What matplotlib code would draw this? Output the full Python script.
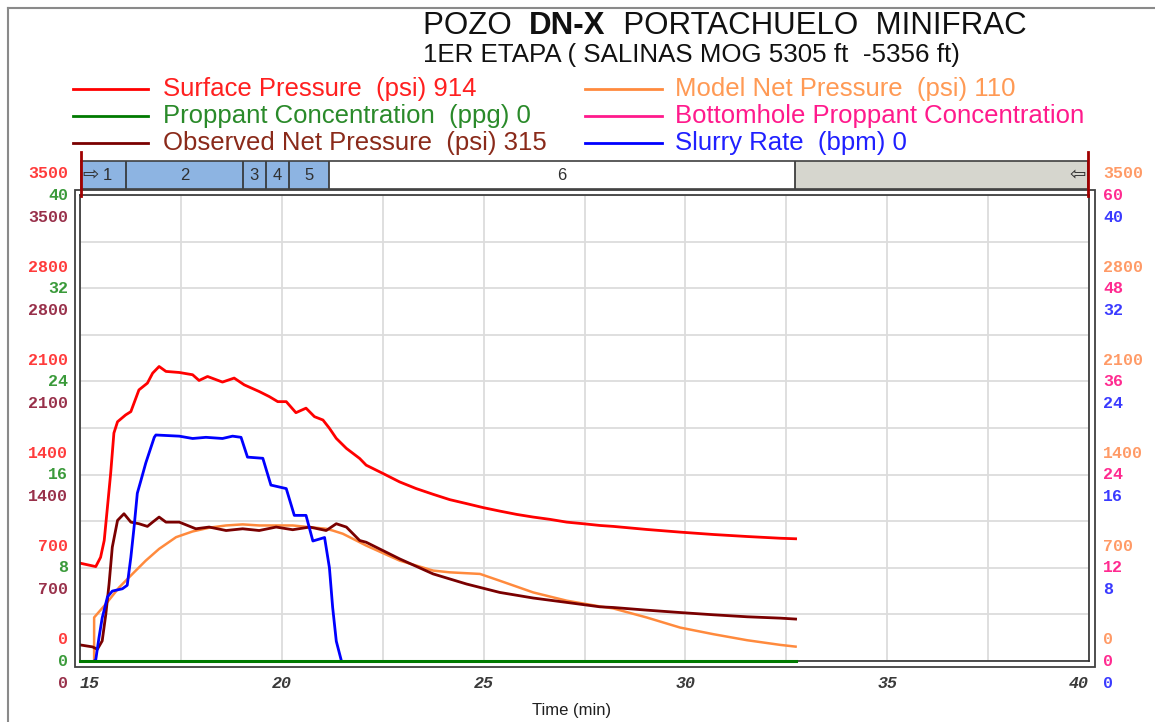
import numpy as np
import matplotlib
matplotlib.use('Agg')
import matplotlib.pyplot as plt
from matplotlib.transforms import offset_copy
from matplotlib.patches import Rectangle
from matplotlib.lines import Line2D

# Surface pressure (psi)
sp_t = [15.0, 15.39, 15.51, 15.60, 15.68, 15.76, 15.84, 15.93, 16.13, 16.26, 16.46, 16.67,
        16.80, 16.96, 17.13, 17.46, 17.79, 17.95, 18.16, 18.53, 18.82, 19.07, 19.44, 19.69,
        19.90, 20.11, 20.35, 20.60, 20.81, 21.02, 21.18, 21.35, 21.60, 21.93, 22.09, 22.51,
        22.92, 23.33, 23.75, 24.16, 24.58, 24.99, 25.40, 25.82, 26.23, 26.64, 27.06, 27.47,
        27.88, 28.21, 29.04, 29.87, 30.70, 31.53, 32.35, 32.73]
sp_v = [735, 709, 779, 905, 1156, 1410, 1712, 1797, 1848, 1873, 2036, 2087,
        2162, 2212, 2175, 2167, 2150, 2107, 2137, 2095, 2125, 2074, 2024, 1986,
        1948, 1948, 1865, 1899, 1835, 1810, 1748, 1672, 1597, 1521, 1471, 1408,
        1345, 1295, 1252, 1212, 1182, 1152, 1126, 1101, 1081, 1064, 1043, 1031,
        1018, 1011, 988, 968, 950, 935, 922, 918]

# Slurry rate (bpm)
sr_t = [15.35, 15.39, 15.47, 15.55, 15.68, 15.80, 16.05, 16.17, 16.26, 16.34, 16.42, 16.51,
        16.63, 16.84, 16.88, 17.46, 17.79, 18.12, 18.53, 18.78, 18.99, 19.15, 19.53, 19.73,
        20.11, 20.31, 20.60, 20.77, 21.06, 21.18, 21.26, 21.35, 21.47]
sr_v = [0.0, 0.1, 2.0, 3.7, 5.5, 6.0, 6.2, 6.5, 8.9, 11.5, 14.4, 15.5,
        17.0, 19.2, 19.4, 19.3, 19.1, 19.2, 19.1, 19.3, 19.2, 17.5, 17.4, 15.1,
        14.8, 12.5, 12.5, 10.3, 10.6, 8.0, 4.6, 1.7, 0.1]

# Model net pressure (psi)
mn_t = [15.35, 15.35, 15.64, 15.97, 16.30, 16.63, 16.96, 17.38, 17.79, 18.20, 18.62, 19.03,
        19.44, 20.27, 21.10, 21.26, 21.51, 21.93, 22.09, 22.92, 23.75, 24.16, 24.91, 25.40,
        26.23, 27.06, 27.88, 28.21, 29.04, 29.87, 30.70, 31.53, 32.35, 32.73]
mn_v = [0, 327, 428, 553, 654, 754, 842, 930, 973, 1001, 1018, 1026,
        1018, 1018, 993, 980, 956, 892, 867, 754, 679, 666, 654, 603,
        515, 453, 410, 395, 327, 251, 201, 156, 121, 108]

# Observed net pressure (psi)
on_t = [15.0, 15.31, 15.43, 15.55, 15.64, 15.72, 15.80, 15.93, 16.09, 16.26, 16.46, 16.67,
        16.80, 16.96, 17.13, 17.46, 17.87, 18.20, 18.62, 19.03, 19.44, 19.86, 20.27, 20.69,
        21.10, 21.35, 21.60, 21.93, 22.09, 22.92, 23.75, 24.58, 25.40, 26.23, 27.06, 27.88,
        28.21, 29.04, 29.87, 30.70, 31.53, 32.35, 32.73]
on_v = [121, 106, 88, 151, 352, 578, 855, 1056, 1106, 1043, 1031, 1011,
        1043, 1081, 1043, 1043, 993, 1006, 980, 993, 980, 1006, 986, 1006,
        980, 1031, 1006, 905, 892, 767, 654, 578, 515, 473, 440, 407,
        402, 382, 364, 347, 332, 322, 315]

# Proppant concentration (ppg)
pc_t = [15.0, 32.73]
pc_v = [0, 0]

# stages
stage_edges = [15.0, 16.12, 19.02, 19.59, 20.16, 21.16, 32.73, 40.0]
stage_labels = ['1', '2', '3', '4', '5', '6', '']

# axis tick labels
x_labels = [15, 20, 25, 30, 35, 40]
sp_ticks = ['0', '700', '1400', '2100', '2800', '3500']
pc_ticks = ['0', '8', '16', '24', '32', '40']
on_ticks = ['0', '700', '1400', '2100', '2800', '3500']
mn_ticks = ['0', '700', '1400', '2100', '2800', '3500']
bh_ticks = ['0', '12', '24', '36', '48', '60']
sr_ticks = ['0', '8', '16', '24', '32', '40']

W, H = 1155, 722
fig = plt.figure(figsize=(W / 100, H / 100), dpi=100)
plt.rcParams['font.family'] = ['Liberation Sans', 'DejaVu Sans']


def fx(px):
    return px / W


def fy(py):
    return 1 - py / H


# main plot
ax = fig.add_axes([fx(80), fy(661), fx(1089) - fx(80), fy(195) - fy(661)])
ax.set_xlim(15, 40)
ax.set_ylim(0, 3500)
ax.set_xticks(np.arange(15, 40.01, 2.5))
ax.set_yticks(np.linspace(0, 3500, 11))
ax.grid(color='#dcdcdc', linewidth=1.3)
ax.set_axisbelow(True)
ax.tick_params(length=0, labelbottom=False, labelleft=False)
for s in ax.spines.values():
    s.set_color('#303030')
    s.set_linewidth(1.2)

ax2 = ax.twinx()
ax2.set_ylim(0, 40)
ax2.set_yticks([])
ax2.tick_params(length=0)
for s in ax2.spines.values():
    s.set_visible(False)

ax.plot(sp_t, sp_v, color='#ff0000', lw=2.0)
ax.plot(mn_t, mn_v, color='#ff8a3d', lw=1.8)
ax.plot(on_t, on_v, color='#7a0000', lw=2.0)
ax2.plot(sr_t, sr_v, color='#0000ff', lw=2.0)
ax2.plot(pc_t, pc_v, color='#007a00', lw=2.2, clip_on=False)

# outer frame of the plot
fig.add_artist(Rectangle((fx(74.5), fy(666.5)), fx(1095) - fx(74.5), fy(190) - fy(666.5),
                         transform=fig.transFigure, fill=False, ec='#404040', lw=1.3))

# stacked y tick labels
fracs = np.linspace(0, 1, 6)
tick_font = dict(family='Liberation Mono', fontweight='bold', fontsize=12)
left_sets = [(sp_ticks, '#ff3b3b', 21), (pc_ticks, '#3a9a3a', 0), (on_ticks, '#98304a', -22)]
right_sets = [(mn_ticks, '#ff9a66', 21), (bh_ticks, '#ff2a90', 0), (sr_ticks, '#3a3aff', -22)]
for labels, col, dy in left_sets:
    tr = offset_copy(ax.transAxes, fig=fig, x=-12, y=dy, units='dots')
    for f, lab in zip(fracs, labels):
        ax.text(0, f, lab, transform=tr, ha='right', va='center', color=col,
                clip_on=False, **tick_font)
for labels, col, dy in right_sets:
    tr = offset_copy(ax.transAxes, fig=fig, x=14, y=dy, units='dots')
    for f, lab in zip(fracs, labels):
        ax.text(1, f, lab, transform=tr, ha='left', va='center', color=col,
                clip_on=False, **tick_font)

trx = offset_copy(ax.get_xaxis_transform(), fig=fig, x=0, y=-22, units='dots')
for v in x_labels:
    ha = 'left' if v == 15 else ('right' if v == 40 else 'center')
    ax.text(v, 0, str(v), transform=trx, ha=ha, va='center', color='#3a3a3a',
            style='italic', clip_on=False, **tick_font)

fig.text(fx(572), fy(711), 'Time (min)', ha='center', va='center', fontsize=12, color='#202020')

# stage bar
axs = fig.add_axes([fx(81), fy(189), fx(1088) - fx(81), fy(161) - fy(189)])
axs.set_xlim(15, 40)
axs.set_ylim(0, 1)
axs.set_xticks([])
axs.set_yticks([])
for s in axs.spines.values():
    s.set_color('#404040')
    s.set_linewidth(1.2)
for i in range(len(stage_edges) - 1):
    a, b = stage_edges[i], stage_edges[i + 1]
    if i < 5:
        fc = '#8db4e2'
    elif i == 5:
        fc = '#ffffff'
    else:
        fc = '#d6d6ce'
    axs.axvspan(a, b, color=fc, zorder=1)
    axs.axvline(b, color='#303030', lw=1.2, zorder=2)
    if stage_labels[i]:
        axs.text((a + b) / 2 + (0.1 if i == 0 else 0), 0.5, stage_labels[i], ha='center',
                 va='center', fontsize=12, color='#303030')
axs.text(15.03, 0.5, '\u21e8', ha='left', va='center', fontsize=14, color='#303030',
         family='DejaVu Sans')
axs.text(39.95, 0.5, '\u21e6', ha='right', va='center', fontsize=14, color='#303030',
         family='DejaVu Sans')

# dark red end markers
for px in (81, 1088):
    fig.add_artist(Line2D([fx(px), fx(px)], [fy(152), fy(196)], color='#a00000', lw=2))

# title
fig.text(fx(423), fy(26), 'POZO ', fontsize=22.5, ha='left', va='center', color='#111111')
t1 = fig.text(fx(423), fy(26), 'POZO  ', fontsize=22.5, ha='left', va='center', alpha=0)
fig.canvas.draw()
r = fig.canvas.get_renderer()
bb = t1.get_window_extent(r)
x2 = bb.x1
t2 = fig.text(x2 / W, fy(26), 'DN-X', fontsize=22.5, ha='left', va='center',
              fontweight='bold', color='#111111')
bb2 = t2.get_window_extent(r)
fig.text(bb2.x1 / W, fy(26), '  PORTACHUELO  MINIFRAC', fontsize=22.5, ha='left',
         va='center', color='#111111')
fig.text(fx(423), fy(55), '1ER ETAPA ( SALINAS MOG 5305 ft  -5356 ft)', fontsize=18.6,
         ha='left', va='center', color='#111111')

# legend
legend_items = [
    (73, 148, 163, 89, '#ff0000', '#ff2020', 'Surface Pressure  (psi) 914'),
    (73, 148, 163, 116, '#007a00', '#2a8a2a', 'Proppant Concentration  (ppg) 0'),
    (73, 148, 163, 143, '#7a0000', '#8a2a1a', 'Observed Net Pressure  (psi) 315'),
    (585, 662, 675, 89, '#ff8a3d', '#ff9a55', 'Model Net Pressure  (psi) 110'),
    (585, 662, 675, 116, '#ff1a8c', '#ff1a8c', 'Bottomhole Proppant Concentration'),
    (585, 662, 675, 143, '#0000ff', '#2020ff', 'Slurry Rate  (bpm) 0'),
]
for x0, x1, xt, y, lc, tc, txt in legend_items:
    fig.add_artist(Line2D([fx(x0), fx(x1)], [fy(y), fy(y)], color=lc, lw=2))
    fig.text(fx(xt), fy(y), txt, ha='left', va='center', fontsize=18.5, color=tc)

# window border
fig.add_artist(Line2D([fx(8), fx(8)], [fy(8), 0], color='#8a8a8a', lw=1.5))
fig.add_artist(Line2D([fx(8), 1], [fy(8), fy(8)], color='#8a8a8a', lw=1.5))

fig.savefig('out.png', dpi=100)
